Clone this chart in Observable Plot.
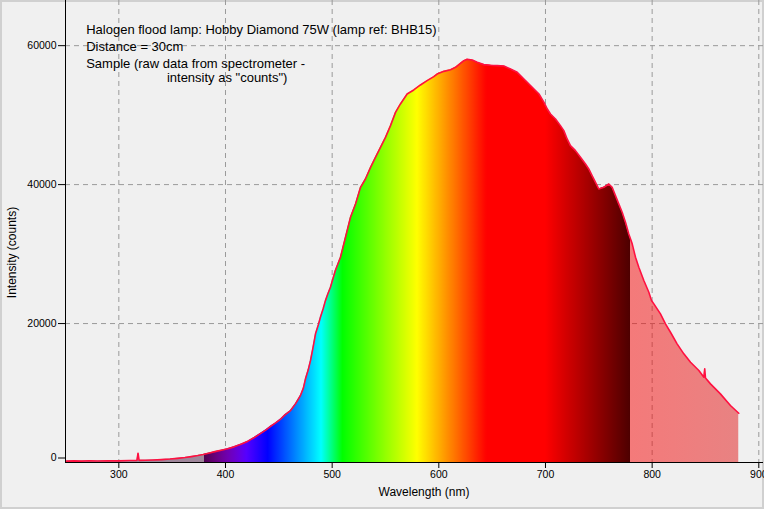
<!DOCTYPE html>
<html>
<head>
<meta charset="utf-8">
<script src="https://cdn.jsdelivr.net/npm/d3@7"></script>
<script src="https://cdn.jsdelivr.net/npm/@observablehq/plot@0.6"></script>
<style>
  html, body { margin: 0; padding: 0; background: #f0f0f0; }
  #wrap { width: 764px; height: 509px; position: relative; background: #f0f0f0; box-shadow: inset 0 0 0 2px #d0d0d0; overflow: hidden; }
  #wrap svg { position: absolute; left: 0; top: 0; }
</style>
</head>
<body>
<div id="wrap"></div>
<script>
// ---- data ----
const wavelengths = [
  251, 258, 265, 272, 280, 290, 300, 310, 317, 318, 319, 325, 332, 340, 348, 355, 362, 368, 374, 379,
  385, 391, 397, 402, 408, 415, 421, 427, 433, 438, 442, 447, 452, 456, 461, 465.6, 470.3, 473, 475, 477.5,
  479.7, 482, 484.4, 487, 489, 491.5, 493.7, 496, 498.4, 503, 507.8, 512.5, 517.2, 521.9, 526.6, 531.2, 536, 540.6, 545.3, 550,
  554.7, 559.4, 564, 570.3, 576.5, 582.8, 589, 595.3, 598.4, 604.7, 611, 615.7, 620.3, 623.5, 626.6, 631.3, 636, 642.2, 648.4, 654.7,
  661, 667.2, 673.5, 679.8, 684.5, 689.2, 693.9, 698.6, 701.7, 704.7, 709.4, 714, 717.2, 720.3, 723.4, 728.1, 732.8, 737.5, 740.6, 743.7,
  746.9, 750, 754.7, 759.4, 762.5, 765.6, 768.7, 771.9, 775, 778.1, 781.3, 784.4, 787.5, 792.2, 796.9, 799.4, 801.6, 807.8, 812.5, 817.2,
  823.4, 829.7, 836, 843.8, 848.5, 849.3, 850, 854.7, 864, 873.4, 881.2
];
const counts = [
  200, 230, 200, 260, 220, 250, 240, 280, 300, 1340, 310, 330, 360, 420, 500, 600, 720, 850, 1000, 1150,
  1380, 1600, 1800, 1970, 2250, 2650, 3070, 3600, 4200, 4700, 5180, 5700, 6290, 6900, 7480, 8440, 9640, 10700, 12040, 13300,
  14680, 16500, 18520, 19800, 20900, 22100, 23300, 24300, 25220, 27630, 29540, 32420, 35300, 37220, 39610, 40810, 42490, 43930, 45370, 46800,
  48490, 50400, 51610, 53040, 53620, 54340, 54960, 55540, 55920, 56300, 56540, 56880, 57460, 57840, 58030, 57940, 57600, 57270, 57170, 57120,
  57080, 56640, 56160, 55200, 54480, 53760, 53040, 51840, 50880, 50170, 49450, 48490, 47770, 46570, 45610, 44890, 43930, 42970, 42250, 41290,
  40330, 39370, 39610, 40090, 39610, 38420, 37220, 36020, 34580, 32900, 31470, 29540, 28100, 26190, 24500, 23310, 22830, 21400, 19960, 18750,
  17080, 15640, 14430, 13240, 12270, 13480, 12150, 11320, 9880, 8200, 7090
];
const xTicks = [300, 400, 500, 600, 700, 800, 900];
const yTicks = [0, 20000, 40000, 60000];
const titleLines = [
  "Halogen flood lamp: Hobby Diamond 75W (lamp ref: BHB15)",
  "Distance = 30cm",
  "Sample (raw data from spectrometer -",
  "intensity as \"counts\")"
];
const xLabel = "Wavelength (nm)";
const yLabel = "Intensity (counts)";

const data = wavelengths.map((w, i) => ({w, v: counts[i]}));

// visible-spectrum colour for a wavelength (Bruton style)
function spectrumColor(w) {
  let r = 0, g = 0, b = 0;
  if (w < 440) { r = (440 - w) / 60; b = 1; }
  else if (w < 490) { g = (w - 440) / 50; b = 1; }
  else if (w < 510) { g = 1; b = (510 - w) / 20; }
  else if (w < 580) { r = (w - 510) / 70; g = 1; }
  else if (w < 645) { r = 1; g = (645 - w) / 65; }
  else { r = 1; }
  let f = 1;
  if (w < 420) f = 0.3 + 0.7 * (w - 380) / 40;
  else if (w > 700) f = 0.3 + 0.7 * (780 - w) / 80;
  const c = v => Math.round(255 * v * f);
  return `rgb(${c(r)},${c(g)},${c(b)})`;
}

const font = "'Liberation Sans', Arial, sans-serif";
const plain = d => String(d);

const chart = Plot.plot({
  width: 764,
  height: 509,
  marginLeft: 65,
  marginRight: 1,
  marginTop: 0,
  marginBottom: 47,
  style: {fontFamily: font, fontSize: "10.5px", background: "transparent", color: "black"},
  x: {domain: [250, 904.4]},
  y: {domain: [0, 66500]},
  marks: [
    Plot.gridX(xTicks, {stroke: "#9a9a9a", strokeOpacity: 1, strokeDasharray: "5,4"}),
    Plot.gridY(yTicks.filter(d => d > 0), {stroke: "#9a9a9a", strokeOpacity: 1, strokeDasharray: "5,4"}),
    Plot.areaY(data, {x: "w", y: "v", fill: "url(#spec)"}),
    Plot.ruleX([250], {stroke: "black"}),
    Plot.ruleY([0], {stroke: "black"}),
    Plot.axisX(xTicks, {tickSize: 6, tickPadding: 2, label: null, fontSize: 10.5, tickFormat: plain}),
    Plot.axisY(yTicks.filter(d => d > 0), {tickSize: 7, tickPadding: 2, label: null, fontSize: 10.5, tickFormat: plain}),
    Plot.axisY(yTicks.filter(d => d === 0), {tickSize: 7, tickPadding: 2, label: null, fontSize: 10.5, dy: -4.5, tickFormat: plain}),
    Plot.lineY(data, {x: "w", y: "v", stroke: "#ff1040", strokeWidth: 1.6}),
    Plot.text([titleLines.slice(0, 3).join("\n")], {
      frameAnchor: "top-left", textAnchor: "start", lineAnchor: "top",
      dx: 20.7, dy: 21.8, fontSize: 13, lineHeight: 1.3, fill: "black"
    }),
    Plot.text([titleLines[3]], {
      frameAnchor: "top-left", textAnchor: "start", lineAnchor: "top",
      dx: 101.4, dy: 72.5, fontSize: 13, fill: "black"
    }),
    Plot.text([xLabel], {frameAnchor: "bottom", textAnchor: "middle", dx: 9.5, dy: 33.2, fontSize: 12, fill: "black"}),
    Plot.text([yLabel], {frameAnchor: "left", textAnchor: "middle", rotate: -90, dx: -53, dy: 21, fontSize: 12, fill: "black"})
  ]
});

// spectrum gradient placed with the chart's own x scale
const xs = chart.scale("x");
const w0 = 250, w1 = 890;
const off = w => (w - w0) / (w1 - w0);
const grad = d3.select(chart).insert("defs", ":first-child")
  .append("linearGradient")
  .attr("id", "spec")
  .attr("gradientUnits", "userSpaceOnUse")
  .attr("x1", xs.apply(w0)).attr("x2", xs.apply(w1))
  .attr("y1", 0).attr("y2", 0);
const stops = [];
stops.push({o: off(250), c: "rgb(78,30,70)", a: 0.5});
stops.push({o: off(380), c: "rgb(78,30,70)", a: 0.5});
for (let w = 380; w <= 780; w += 2) stops.push({o: off(w), c: spectrumColor(w), a: 1});
stops.push({o: off(780), c: "rgb(248,4,4)", a: 0.5});
stops.push({o: off(820), c: "rgb(240,10,10)", a: 0.5});
stops.push({o: off(890), c: "rgb(222,22,22)", a: 0.5});
stops.forEach(s => grad.append("stop").attr("offset", s.o).attr("stop-color", s.c).attr("stop-opacity", s.a));

document.getElementById("wrap").appendChild(chart);
</script>
</body>
</html>
